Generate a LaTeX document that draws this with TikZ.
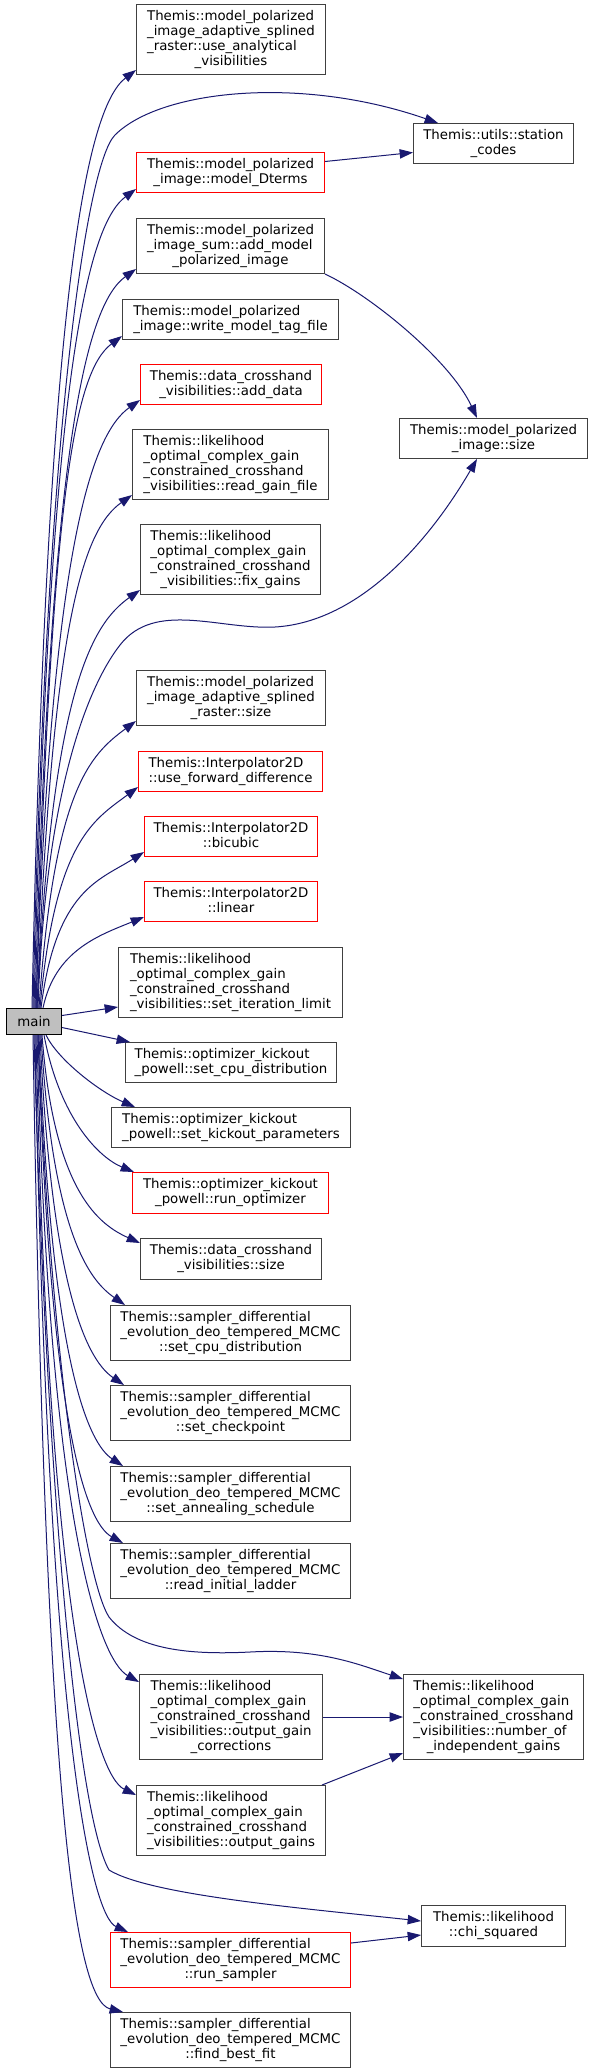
\documentclass[tikz,border=0pt]{standalone}
\usepackage{fontspec}
\setmainfont{DejaVu Sans}
\usetikzlibrary{arrows.meta,calc}
\definecolor{edgeblue}{RGB}{25,25,112}
\definecolor{boxgray}{RGB}{64,64,64}
\definecolor{boxred}{RGB}{255,0,0}
\definecolor{mainfill}{RGB}{191,191,191}
\newcommand\fnlabel[2]{\begin{tabular}{@{}l@{}}#1\\\multicolumn{1}{@{}c@{}}{#2}\end{tabular}}
\tikzset{
  fnbox/.style 2 args={draw=boxgray, fill=white, line width=0.75pt, anchor=north west,
    inner sep=0pt, minimum width=#1*0.75pt, minimum height=#2*0.75pt,
    font=\fontsize{10}{11.25}\selectfont},
  fnred/.style 2 args={fnbox={#1}{#2}, draw=boxred},
  call/.style={-{Triangle[length=10pt,width=7pt]}, edgeblue, line width=0.75pt},
}

\begin{document}
\begin{tikzpicture}[x=0.75pt, y=-0.75pt]
  \useasboundingbox (0,0) rectangle (589,2071);
  \fill[white] (0,0) rectangle (589,2071);

  % caller
  \node[fnbox={55}{26}, fill=mainfill, draw=black] (main) at (6,1008) {main};

  % callees, second column
  \node[fnbox={189}{70}] (uav) at (136,4)
    {\fnlabel{Themis::model\_polarized\\\_image\_adaptive\_splined\\\_raster::use\_analytical}{\_visibilities}};
  \node[fnred={188}{40}] (dterms) at (136,152)
    {\fnlabel{Themis::model\_polarized}{\_image::model\_Dterms}};
  \node[fnbox={188}{55}] (addmpi) at (136,218)
    {\fnlabel{Themis::model\_polarized\\\_image\_sum::add\_model}{\_polarized\_image}};
  \node[fnbox={216}{40}] (wtag) at (122,299)
    {\fnlabel{Themis::model\_polarized}{\_image::write\_model\_tag\_file}};
  \node[fnred={181}{40}] (adddata) at (140,364)
    {\fnlabel{Themis::data\_crosshand}{\_visibilities::add\_data}};
  \node[fnbox={196}{70}] (readgain) at (132,429)
    {\fnlabel{Themis::likelihood\\\_optimal\_complex\_gain\\\_constrained\_crosshand}{\_visibilities::read\_gain\_file}};
  \node[fnbox={180}{70}] (fixgains) at (140,524)
    {\fnlabel{Themis::likelihood\\\_optimal\_complex\_gain\\\_constrained\_crosshand}{\_visibilities::fix\_gains}};
  \node[fnbox={189}{55}] (adaptsize) at (136,670)
    {\fnlabel{Themis::model\_polarized\\\_image\_adaptive\_splined}{\_raster::size}};
  \node[fnred={184}{40}] (usefwd) at (138,751)
    {\fnlabel{Themis::Interpolator2D}{::use\_forward\_difference}};
  \node[fnred={173}{40}] (bicubic) at (144,816)
    {\fnlabel{Themis::Interpolator2D}{::bicubic}};
  \node[fnred={173}{40}] (linear) at (144,881)
    {\fnlabel{Themis::Interpolator2D}{::linear}};
  \node[fnbox={224}{70}] (setiter) at (118,947)
    {\fnlabel{Themis::likelihood\\\_optimal\_complex\_gain\\\_constrained\_crosshand}{\_visibilities::set\_iteration\_limit}};
  \node[fnbox={211}{40}] (optcpu) at (125,1042)
    {\fnlabel{Themis::optimizer\_kickout}{\_powell::set\_cpu\_distribution}};
  \node[fnbox={239}{40}] (kickpar) at (111,1107)
    {\fnlabel{Themis::optimizer\_kickout}{\_powell::set\_kickout\_parameters}};
  \node[fnred={196}{41}] (runopt) at (132,1172)
    {\fnlabel{Themis::optimizer\_kickout}{\_powell::run\_optimizer}};
  \node[fnbox={181}{41}] (dsize) at (140,1238)
    {\fnlabel{Themis::data\_crosshand}{\_visibilities::size}};
  \node[fnbox={240}{55}] (smpcpu) at (110,1305)
    {\fnlabel{Themis::sampler\_differential\\\_evolution\_deo\_tempered\_MCMC}{::set\_cpu\_distribution}};
  \node[fnbox={240}{55}] (smpchk) at (110,1385)
    {\fnlabel{Themis::sampler\_differential\\\_evolution\_deo\_tempered\_MCMC}{::set\_checkpoint}};
  \node[fnbox={240}{55}] (smpanneal) at (110,1466)
    {\fnlabel{Themis::sampler\_differential\\\_evolution\_deo\_tempered\_MCMC}{::set\_annealing\_schedule}};
  \node[fnbox={240}{55}] (smpladder) at (110,1543)
    {\fnlabel{Themis::sampler\_differential\\\_evolution\_deo\_tempered\_MCMC}{::read\_initial\_ladder}};
  \node[fnbox={183}{85}] (gaincorr) at (139,1674)
    {\fnlabel{Themis::likelihood\\\_optimal\_complex\_gain\\\_constrained\_crosshand\\\_visibilities::output\_gain}{\_corrections}};
  \node[fnbox={189}{70}] (outgains) at (136,1785)
    {\fnlabel{Themis::likelihood\\\_optimal\_complex\_gain\\\_constrained\_crosshand}{\_visibilities::output\_gains}};
  \node[fnred={240}{55}] (runsmp) at (110,1932)
    {\fnlabel{Themis::sampler\_differential\\\_evolution\_deo\_tempered\_MCMC}{::run\_sampler}};
  \node[fnbox={240}{55}] (bestfit) at (110,2012)
    {\fnlabel{Themis::sampler\_differential\\\_evolution\_deo\_tempered\_MCMC}{::find\_best\_fit}};

  % third column
  \node[fnbox={160}{40}] (stc) at (413,123)
    {\fnlabel{Themis::utils::station}{\_codes}};
  \node[fnbox={188}{40}] (mpisize) at (399,418)
    {\fnlabel{Themis::model\_polarized}{\_image::size}};
  \node[fnbox={180}{85}] (numgains) at (403,1674)
    {\fnlabel{Themis::likelihood\\\_optimal\_complex\_gain\\\_constrained\_crosshand\\\_visibilities::number\_of}{\_independent\_gains}};
  \node[fnbox={144}{41}] (chisq) at (421,1905)
    {\fnlabel{Themis::likelihood}{::chi\_squared}};

  % calls going up
  \draw[call] ($(main.north west)+(26,0)$) .. controls (47,295) and (86,108) .. ($(uav.south west)+(0,-5)$);
  \draw[call] ($(main.north west)+(27,0)$) .. controls (45,450) and (85,165) .. (115,135)
    .. controls (160,90) and (300,75) .. ($(stc.north west)+(25,0)$);
  \draw[call] ($(main.north west)+(28,0)$) .. controls (49,385) and (86,226) .. ($(dterms.south west)+(0,-4)$);
  \draw[call] ($(main.north west)+(29,0)$) .. controls (50,445) and (86,305) .. ($(addmpi.south west)+(0,-5)$);
  \draw[call] ($(main.north west)+(30,0)$) .. controls (51,497) and (74,372) .. ($(wtag.south west)+(0,-4)$);
  \draw[call] ($(main.north west)+(30,0)$) .. controls (51,545) and (92,434) .. ($(adddata.south west)+(0,-5)$);
  \draw[call] ($(main.north west)+(31,0)$) .. controls (52,617) and (84,529) .. ($(readgain.south west)+(0,-5)$);
  \draw[call] ($(main.north west)+(31,0)$) .. controls (52,689) and (92,624) .. ($(fixgains.south west)+(0,-5)$);
  \draw[call] ($(main.north west)+(32,0)$) .. controls (45,800) and (85,690) .. (120,645)
    .. controls (155,600) and (220,630) .. (275,627)
    .. controls (360,622) and (430,540) .. ($(mpisize.south west)+(78,0)$);
  \draw[call] ($(main.north west)+(33,0)$) .. controls (54,789) and (90,755) .. ($(adaptsize.south west)+(0,-5)$);
  \draw[call] ($(main.north west)+(34,0)$) .. controls (55,840) and (94,820) .. ($(usefwd.south west)+(0,-5)$);
  \draw[call] ($(main.north west)+(35,0)$) .. controls (56,889) and (100,880) .. ($(bicubic.south west)+(0,-5)$);
  \draw[call] ($(main.north west)+(37,0)$) .. controls (55,950) and (100,935) .. ($(linear.south west)+(0,-5)$);

  % calls going right
  \draw[call] ($(main.east)+(0,-6)$) -- ($(setiter.south west)+(0,-11)$);
  \draw[call] ($(main.east)+(0,6)$) -- ($(optcpu.north west)+(5,0)$);

  % calls going down
  \draw[call] ($(main.south west)+(40,0)$) .. controls (58,1060) and (100,1092) .. ($(kickpar.north west)+(24,0)$);
  \draw[call] ($(main.south west)+(38,0)$) .. controls (60,1120) and (100,1158) .. ($(runopt.north west)+(2,0)$);
  \draw[call] ($(main.south west)+(36,0)$) .. controls (54,1193) and (100,1225) .. ($(dsize.north west)+(0,5)$);
  \draw[call] ($(main.south west)+(35,0)$) .. controls (53,1240) and (92,1282) .. ($(smpcpu.north west)+(15,0)$);
  \draw[call] ($(main.south west)+(34,0)$) .. controls (52,1301) and (90,1362) .. ($(smpchk.north west)+(14,0)$);
  \draw[call] ($(main.south west)+(33,0)$) .. controls (51,1362) and (88,1443) .. ($(smpanneal.north west)+(13,0)$);
  \draw[call] ($(main.south west)+(32,0)$) .. controls (50,1421) and (85,1522) .. ($(smpladder.north west)+(13,0)$);
  \draw[call] ($(main.south west)+(32,0)$) .. controls (50,1350) and (85,1580) .. (109,1617)
    .. controls (135,1650) and (190,1655) .. (250,1652)
    .. controls (320,1648) and (360,1665) .. ($(numgains.north west)+(0,5)$);
  \draw[call] ($(main.south west)+(31,0)$) .. controls (49,1526) and (100,1660) .. ($(gaincorr.north west)+(0,8)$);
  \draw[call] ($(main.south west)+(30,0)$) .. controls (48,1612) and (95,1775) .. ($(outgains.north west)+(0,10)$);
  \draw[call] ($(main.south west)+(28,0)$) .. controls (45,1450) and (75,1810) .. (109,1870)
    .. controls (150,1895) and (300,1908) .. ($(chisq.west)+(0,-5)$);
  \draw[call] ($(main.south west)+(29,0)$) .. controls (47,1716) and (90,1915) .. ($(runsmp.north west)+(18,0)$);
  \draw[call] ($(main.south west)+(27,0)$) .. controls (45,1777) and (73,2000) .. ($(bestfit.north west)+(13,0)$);

  % second column to third column
  \draw[call] ($(dterms.east)+(0,-11)$) -- ($(stc.west)+(0,9)$);
  \draw[call] (addmpi.south east) .. controls (370,295) and (450,360) .. ($(mpisize.north west)+(78,0)$);
  \draw[call] (gaincorr.east) -- (numgains.west);
  \draw[call] ($(outgains.north east)+(-4,0)$) -- ($(numgains.south west)+(0,-7)$);
  \draw[call] ($(runsmp.north east)+(0,11)$) -- ($(chisq.south west)+(0,-12)$);
\end{tikzpicture}
\end{document}
